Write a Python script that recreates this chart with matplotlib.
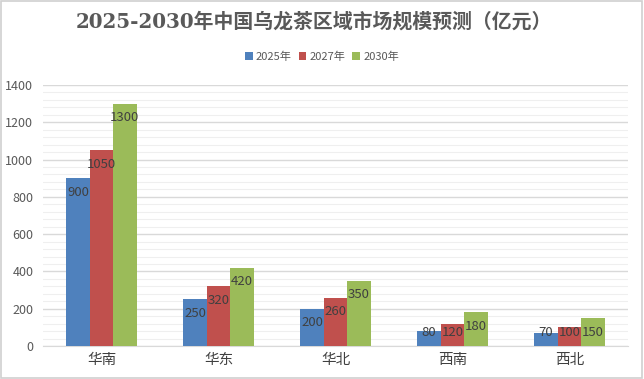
import numpy as np
import matplotlib.pyplot as plt
from matplotlib.patches import Rectangle

plt.rcParams['font.family'] = ['Noto Sans CJK SC', 'DejaVu Sans']

# data
regions = ['华南', '华东', '华北', '西南', '西北']
years = ['2025年', '2027年', '2030年']
v2025 = [900, 250, 200, 80, 70]
v2027 = [1050, 320, 260, 120, 100]
v2030 = [1300, 420, 350, 180, 150]
colors = ['#4F81BD', '#C0504D', '#9BBB59']

fig = plt.figure(figsize=(6.44, 3.79), dpi=100)
fig.patches.append(Rectangle((0.002, 0.003), 0.995, 0.994, transform=fig.transFigure,
                             fill=False, edgecolor='#d0d0d0', linewidth=1.2))
ax = fig.add_axes([43 / 644, 1 - 346 / 379, 585 / 644, (346 - 85) / 379])

x = np.arange(len(regions))
w = 0.2
for i, (vals, c, lab) in enumerate(zip([v2025, v2027, v2030], colors, years)):
    pos = x + (i - 1) * w
    ax.bar(pos, vals, w, color=c, label=lab, zorder=3)
    for px, v in zip(pos, vals):
        ax.text(px, max(v - 75, 75), str(v), ha='center', va='center',
                fontsize=9.5, color='#404040', zorder=4)

ax.set_xlim(-0.5, len(regions) - 0.5)
ax.set_ylim(0, 1400)
ax.set_yticks(np.arange(0, 1401, 200))
ax.set_yticks(np.arange(0, 1401, 40), minor=True)
ax.yaxis.grid(True, which='major', color='#d9d9d9', linewidth=1, zorder=0)
ax.yaxis.grid(True, which='minor', color='#efefef', linewidth=0.8, zorder=0)
ax.set_xticks(x)
ax.set_xticklabels(regions, fontsize=10.5, color='#404040')
ax.tick_params(axis='y', which='both', length=0, labelsize=9, labelcolor='#595959', pad=7)
ax.tick_params(axis='x', length=0, pad=5)
for s in ['left', 'right', 'top']:
    ax.spines[s].set_visible(False)
ax.spines['bottom'].set_color('#d9d9d9')

fig.text(0.488, 1 - 22 / 379, '2025-2030年中国乌龙茶区域市场规模预测（亿元）',
         ha='center', va='center', fontsize=14.3, fontweight='bold', color='#595959',
         family=['DejaVu Serif', 'Noto Sans CJK SC'])
fig.legend(loc='center', bbox_to_anchor=(0.5, 1 - 57 / 379), ncol=3, frameon=False,
           fontsize=8, handlelength=0.7, handleheight=0.7, handletextpad=0.3,
           columnspacing=0.6, labelcolor='#595959')

fig.savefig('out.png', dpi=100)
